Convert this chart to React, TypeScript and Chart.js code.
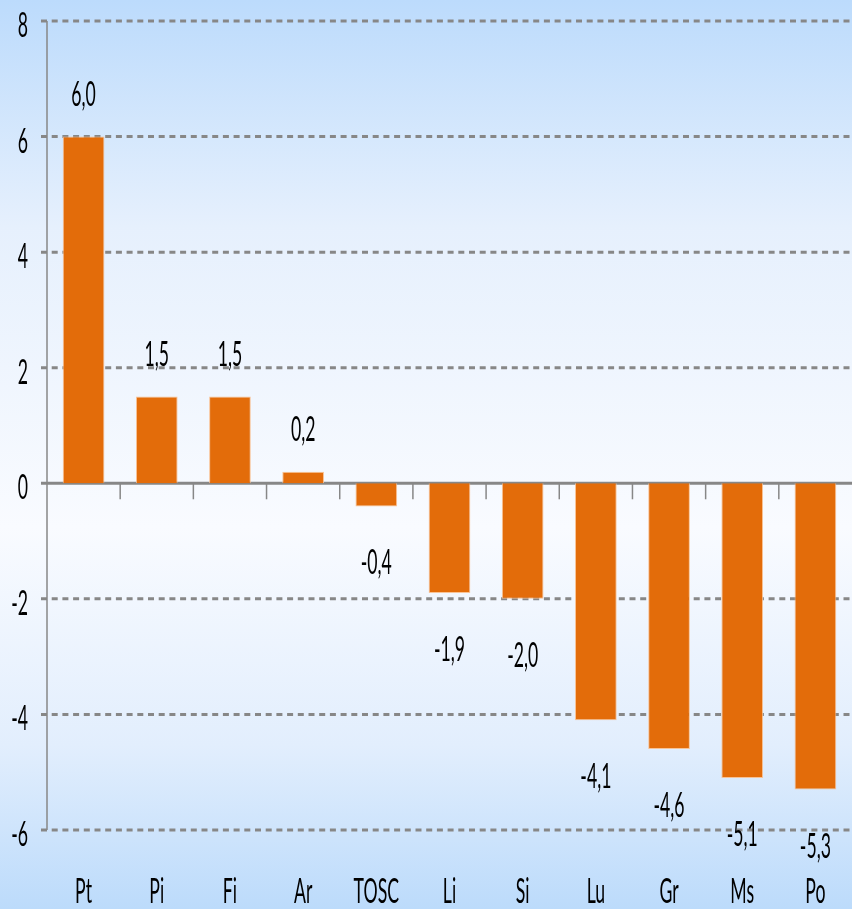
import React, { useEffect, useRef } from "react";
import { Chart, registerables } from "chart.js";

Chart.register(...registerables);

const categories = ["Pt", "Pi", "Fi", "Ar", "TOSC", "Li", "Si", "Lu", "Gr", "Ms", "Po"];
const values = [6.0, 1.5, 1.5, 0.2, -0.4, -1.9, -2.0, -4.1, -4.6, -5.1, -5.3];
const valueLabels = ["6,0", "1,5", "1,5", "0,2", "-0,4", "-1,9", "-2,0", "-4,1", "-4,6", "-5,1", "-5,3"];
const yTicks = [8, 6, 4, 2, 0, -2, -4, -6];

const FONT = "34px Lato";
const SX = 0.52;
const GRAY = "#878787";

function drawText(ctx: CanvasRenderingContext2D, t: string, x: number, y: number, align: "left" | "center" | "right") {
  ctx.save();
  ctx.font = FONT;
  ctx.fillStyle = "#000";
  ctx.textBaseline = "alphabetic";
  const w = ctx.measureText(t).width * SX;
  let x0 = x;
  if (align === "center") x0 = x - w / 2;
  if (align === "right") x0 = x - w;
  ctx.translate(x0, y);
  ctx.scale(SX, 1);
  ctx.textAlign = "left";
  ctx.fillText(t, 0, 0);
  ctx.restore();
}

const decor = {
  id: "decor",
  beforeDatasetsDraw(chart: any) {
    const ctx = chart.ctx as CanvasRenderingContext2D;
    const ys = chart.scales.y;
    const xs = chart.scales.x;
    const area = chart.chartArea;
    const w = chart.width;
    ctx.save();
    yTicks.forEach((v) => {
      const y = ys.getPixelForValue(v);
      ctx.beginPath();
      ctx.lineWidth = 3;
      ctx.strokeStyle = GRAY;
      if (v === 0) ctx.setLineDash([]);
      else ctx.setLineDash([6, 4.7]);
      ctx.moveTo(area.left - 6, y);
      ctx.lineTo(w, y);
      ctx.stroke();
    });
    ctx.setLineDash([]);
    ctx.beginPath();
    ctx.lineWidth = 1.5;
    ctx.strokeStyle = GRAY;
    ctx.moveTo(area.left, ys.getPixelForValue(8));
    ctx.lineTo(area.left, ys.getPixelForValue(-6));
    ctx.stroke();
    const y0 = ys.getPixelForValue(0);
    for (let i = 1; i < categories.length; i++) {
      const x = (xs.getPixelForTick(i - 1) + xs.getPixelForTick(i)) / 2;
      ctx.beginPath();
      ctx.moveTo(x, y0);
      ctx.lineTo(x, y0 + 16);
      ctx.stroke();
    }
    ctx.restore();
  },
  afterDatasetsDraw(chart: any) {
    const ctx = chart.ctx as CanvasRenderingContext2D;
    const ys = chart.scales.y;
    const xs = chart.scales.x;
    const area = chart.chartArea;
    yTicks.forEach((v) => {
      drawText(ctx, String(v), area.left - 19, ys.getPixelForValue(v) + 16, "right");
    });
    categories.forEach((c, i) => {
      drawText(ctx, c, xs.getPixelForTick(i), 903, "center");
    });
    values.forEach((v, i) => {
      const x = xs.getPixelForValue(i);
      const yEnd = ys.getPixelForValue(v);
      const y = v >= 0 ? yEnd - 31 : yEnd + 68;
      drawText(ctx, valueLabels[i], x, y, "center");
    });
  },
};

export default function App() {
  const ref = useRef<HTMLCanvasElement | null>(null);
  useEffect(() => {
    document.body.style.margin = "0";
    const chart = new Chart(ref.current as HTMLCanvasElement, {
      type: "bar",
      data: {
        labels: categories,
        datasets: [
          {
            data: values,
            backgroundColor: "#E36C0A",
            borderColor: "rgba(250,190,140,0.9)",
            borderWidth: 1,
            categoryPercentage: 1,
            barPercentage: 0.57,
          },
        ],
      },
      options: {
        responsive: false,
        animation: false,
        layout: { padding: { left: 47, right: 0, top: 21, bottom: 79 } },
        plugins: { legend: { display: false }, tooltip: { enabled: false } },
        scales: {
          x: { display: false },
          y: { display: false, min: -6, max: 8 },
        },
      },
      plugins: [decor],
    });
    return () => chart.destroy();
  }, []);
  return (
    <div
      style={{
        position: "fixed",
        left: 0,
        top: 0,
        width: 852,
        height: 909,
        background: "linear-gradient(to bottom, #bcdbfc 0%, #e6f0fd 25%, #f9fbff 58%, #e2eefd 82%, #bcdbfb 100%)",
      }}
    >
      <canvas ref={ref} width={852} height={909} style={{ display: "block" }} />
    </div>
  );
}
